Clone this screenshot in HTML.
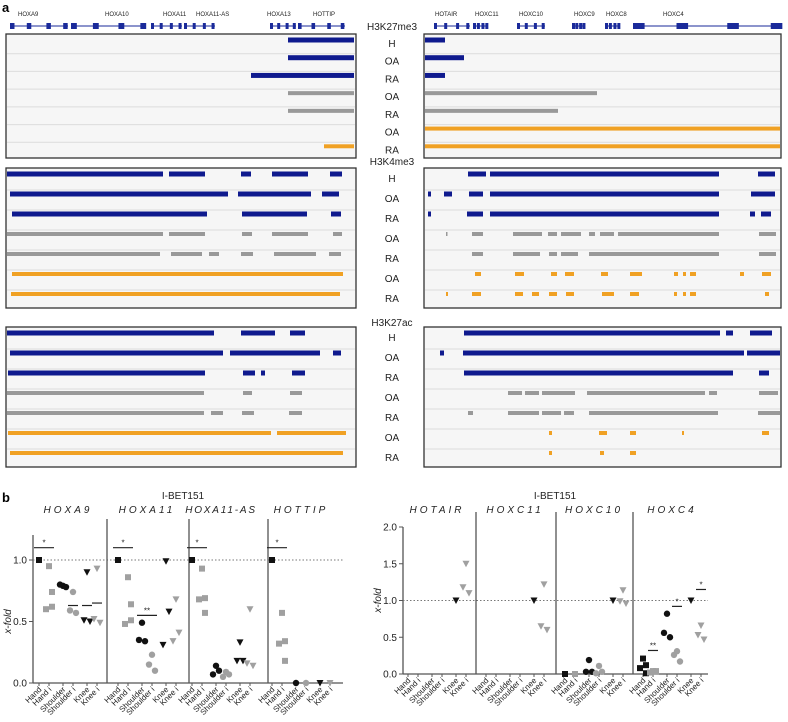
<!DOCTYPE html>
<html><head><meta charset="utf-8">
<style>
html,body{margin:0;padding:0;background:#fff;}
svg{display:block;font-family:"Liberation Sans",sans-serif;}
</style></head>
<body>
<svg id="fig" width="788" height="722" viewBox="0 0 788 722" xmlns="http://www.w3.org/2000/svg">
<text x="2" y="12" font-size="13" font-weight="bold">a</text>
<g id="genes"></g>
<g id="tracks"></g>
<text x="2" y="502" font-size="13" font-weight="bold">b</text>
<g id="scatter"></g>
</svg>
<script>
const NS='http://www.w3.org/2000/svg';
// ---------- Panel a data ----------
const geneNamesLeft=['HOXA9','HOXA10','HOXA11','HOXA11-AS','HOXA13','HOTTIP'];
const geneLabelLeft=[18,105,163,196,267,313];
const geneSpanLeft=[[12,68],[73,146],[153,182],[186,215],[272,296],[300,345]];
const geneNamesRight=['HOTAIR','HOXC11','HOXC10','HOXC9','HOXC8','HOXC4'];
const geneLabelRight=[435,475,519,574,606,663];
const geneSpanRight=[[436,470],[475,488],[519,545],[574,585],[607,620],[635,780]];
const marks=['H3K27me3','H3K4me3','H3K27ac'];
const rowLabels=['H','OA','RA','OA','RA','OA','RA'];
const rowGroup=['blue','blue','blue','gray','gray','orange','orange'];
const peaksK27me3L=[[[288,354]],[[288,354]],[[251,354]],[[288,354]],[[288,354]],[],[[324,354]]];
const peaksK27me3R=[[[424,445]],[[424,464]],[[424,445]],[[424,597]],[[424,558]],[[424,781]],[[424,781]]];
const peaksK4me3L=[
[[6,163],[169,205],[241,251],[272,308],[330,342]],
[[10,228],[238,311],[322,339]],
[[12,207],[242,307],[331,341]],
[[6,163],[169,205],[242,252],[272,308],[333,342]],
[[7,160],[171,202],[209,219],[241,253],[274,316],[329,341]],
[[12,343]],
[[11,340]]];
const peaksK4me3R=[
[[468,486],[490,719],[758,775]],
[[428,431],[444,452],[469,483],[490,719],[751,775]],
[[428,431],[467,483],[490,719],[750,755],[761,771]],
[[446,447],[472,483],[513,542],[548,557],[561,581],[589,595],[600,614],[618,719],[759,776]],
[[472,483],[513,540],[549,557],[561,578],[589,719],[759,776]],
[[475,481],[515,524],[551,557],[565,574],[601,608],[630,642],[674,678],[683,686],[690,696],[740,744],[762,771]],
[[446,448],[472,481],[515,523],[532,539],[549,557],[566,574],[602,614],[630,639],[674,677],[683,686],[690,696],[765,769]]];
const peaksK27acL=[
[[5,214],[241,275],[290,305]],
[[10,223],[230,320],[333,341]],
[[8,205],[243,255],[261,265],[292,305]],
[[5,204],[243,252],[290,302]],
[[5,204],[211,223],[242,254],[289,302]],
[[8,271],[277,346]],
[[10,343]]];
const peaksK27acR=[
[[464,720],[726,733],[750,772]],
[[440,444],[463,744],[747,780]],
[[464,733],[759,769]],
[[508,522],[525,539],[542,575],[587,705],[709,717],[759,778]],
[[468,473],[508,539],[542,561],[564,574],[589,718],[758,780]],
[[549,552],[599,607],[630,636],[682,684],[762,769]],
[[549,552],[600,604],[630,636]]];
const panelPeaks=[[peaksK27me3L,peaksK27me3R],[peaksK4me3L,peaksK4me3R],[peaksK27acL,peaksK27acR]];

// ---------- Panel b data ----------
const cats=['Hand','Hand i','Shoulder','Shoulder i','Knee','Knee i'];
const genesB1=['HOXA9','HOXA11','HOXA11-AS','HOTTIP'];
const genesB2=['HOTAIR','HOXC11','HOXC10','HOXC4'];
const valsHOXA9=[[1.0],[0.95,0.74,0.60,0.62],[0.79,0.78,0.80],[0.74,0.57,0.59],[0.90,0.50,0.51],[0.93,0.49,0.52]];
const valsHOXA11=[[1.0],[0.86,0.64,0.48,0.51],[0.49,0.34,0.35],[0.23,0.10,0.15],[0.99,0.58,0.31],[0.68,0.41,0.34]];
const valsHOXA11AS=[[1.0],[0.93,0.69,0.68,0.57],[0.14,0.10,0.07],[0.09,0.07,0.05],[0.33,0.18,0.18],[0.60,0.14,0.16]];
const valsHOTTIP=[[1.0],[0.57,0.34,0.32,0.18],[0.0],[0.0],[0.0],[0.0]];
const valsHOTAIR=[[],[],[],[],[1.0],[1.50,1.10,1.18]];
const valsHOXC11=[[],[],[],[],[1.0],[1.22,0.60,0.65]];
const valsHOXC10=[[0.0],[0.0],[0.19,0.03,0.03],[0.11,0.03,0.01],[1.0],[1.14,0.96,0.99]];
const valsHOXC4=[[0.21,0.12,0.08,0.01],[0.04,0.03,0.02,0.04],[0.82,0.50,0.56],[0.31,0.17,0.26],[1.0],[0.66,0.47,0.53]];
const sigHOXA9=[[0,1,1.1,'*'],[3,3,0.63,''],[4,4,0.63,''],[5,5,0.65,'']];
const sigHOXA11=[[0,1,1.1,'*'],[2,3,0.55,'**']];
const sigHOXA11AS=[[0,1,1.1,'*']];
const sigHOTTIP=[[0,1,1.1,'*']];
const sigHOXC4=[[1,1,0.32,'**'],[3,3,0.92,'*'],[5,5,1.15,'*']];
const ticksB1=[0,0.5,1.0];
const ticksB2=[0,0.5,1.0,1.5,2.0];

function el(tag,attrs,parent,text){const e=document.createElementNS(NS,tag);for(const k in attrs)e.setAttribute(k,attrs[k]);if(text!==undefined)e.textContent=text;parent.appendChild(e);return e;}
const colors={blue:'#0f1a8e',gray:'#999999',orange:'#f0a124'};
const thick={blue:5,gray:4,orange:4};

const gG=document.getElementById('genes');
function drawGenes(names,lbl,spans){
  names.forEach((n,i)=>{
    const t=el('text',{x:lbl[i],y:16,'font-size':6,fill:'#222'},gG,n);
    
    
    const s=spans[i];
    const ln=el('line',{x1:s[0],x2:s[1],y1:26,y2:26,stroke:'#1a2a9a','stroke-width':1},gG);
    
    
    const w=s[1]-s[0];
    [0,0.3,0.65,0.95].forEach(f=>{
      const b=el('rect',{x:s[0]+f*w-2,y:23,width:Math.max(3,w*0.08),height:6,fill:'#1a2a9a'},gG);
      
      
    });
  });
}
drawGenes(geneNamesLeft,geneLabelLeft,geneSpanLeft);
drawGenes(geneNamesRight,geneLabelRight,geneSpanRight);

const gT=document.getElementById('tracks');
const panels=[{top:34,bot:158,lab:27},{top:168,bot:308,lab:162},{top:327,bot:467,lab:323}];
const boxes=[[6,356],[424,781]];
const trackX=v=>v;
panels.forEach((p,pi)=>{
  const rh=(p.bot-p.top)/7;
  const mt=el('text',{x:392,y:p.lab+3,'font-size':10,'text-anchor':'middle',fill:'#222'},gT,marks[pi]);
  
  
  boxes.forEach((b,bi)=>{
    const r=el('rect',{x:b[0],y:p.top,width:b[1]-b[0],height:p.bot-p.top,fill:'#f6f6f6',stroke:'#333','stroke-width':1.3},gT);
    
    
    for(let i=1;i<7;i++){
      const l=el('line',{x1:b[0]+1,x2:b[1]-1,y1:p.top+i*rh+2,y2:p.top+i*rh+2,stroke:'#dcdcdc','stroke-width':1},gT);
      
      
    }
    const peaks=panelPeaks[pi][bi];
    peaks.forEach((row,ri)=>{
      const grp=rowGroup[ri];const y=p.top+6+ri*rh;
      row.forEach(pk=>{
        const x1=Math.max(trackX(pk[0]),b[0]+1),x2=Math.min(trackX(pk[1]),b[1]-1);
        const rr=el('rect',{x:x1,y:y-thick[grp]/2,width:Math.max(1.5,x2-x1),height:thick[grp],fill:colors[grp]},gT);
        
        
      });
    });
  });
  rowLabels.forEach((r,ri)=>{
    const t=el('text',{x:392,y:p.top+6+ri*rh+(pi===0?7:8),'font-size':10,'text-anchor':'middle',fill:'#222'},gT,r);
    
    
  });
});

const gS=document.getElementById('scatter');
function marker(shape,x,y,fill,parent){
  let m;
  if(shape===0) m=el('rect',{x:x-3,y:y-3,width:6,height:6,fill:fill},parent);
  else if(shape===1) m=el('circle',{cx:x,cy:y,r:3.2,fill:fill},parent);
  else m=el('polygon',{points:`${x-3.5},${y-3} ${x+3.5},${y-3} ${x},${y+3.5}`,fill:fill},parent);
  
  
}
function drawPlot(cfg){
  const yS=v=>cfg.y0-(v)*(cfg.y0-cfg.y1)/cfg.v1;
  const g=el('g',{},gS);
  
  
  const ti=el('text',{x:cfg.titleX,y:499,'font-size':10,'text-anchor':'middle',fill:'#222'},g,'I-BET151');
  
  
  const ya=el('line',{x1:cfg.ax,x2:cfg.ax,y1:cfg.axTop,y2:cfg.y0,stroke:'#555','stroke-width':1.3},g);
  
  
  const xa=el('line',{x1:cfg.ax,x2:cfg.axEnd,y1:cfg.y0,y2:cfg.y0,stroke:'#555','stroke-width':1.3},g);
  
  
  cfg.ticks.forEach(t=>{
    const tk=el('line',{x1:cfg.ax-4,x2:cfg.ax,y1:yS(t),y2:yS(t),stroke:'#555'},g);
    
    
    const tl=el('text',{x:cfg.ax-6,y:yS(t)+3.5,'font-size':10,'text-anchor':'end',fill:'#222'},g,t.toFixed(1));
    
    
  });
  const yt=el('text',{x:0,y:0,'font-size':10,'text-anchor':'middle',fill:'#222','font-style':'italic',transform:`translate(${cfg.ax-22},${yS(cfg.v1/2)}) rotate(-90)`},g,'x-fold');
  
  
  const dl=el('line',{x1:cfg.ax,x2:cfg.axEnd,y1:yS(1),y2:yS(1),stroke:'#777','stroke-dasharray':'1.5,2','stroke-width':1},g);
  
  
  cfg.genes.forEach((gn,gi)=>{
    const base=cfg.bases[gi];
    const px=ci=>base+Math.floor(ci/2)*24+(ci%2)*10;
    if(gi>0){
      const sp=el('line',{x1:cfg.seps[gi-1],x2:cfg.seps[gi-1],y1:cfg.sepTop,y2:cfg.y0,stroke:'#555','stroke-width':1.3},g);
      
      
    }
    const ls=gn.length>7?'1.8':'3';
    const gt=el('text',{x:base+29,y:513,'font-size':10,'text-anchor':'middle','font-style':'italic','letter-spacing':ls,fill:'#222'},g,gn);
    
    
    cats.forEach((c,ci)=>{
      const x=px(ci);
      const tk=el('line',{x1:x,x2:x,y1:cfg.y0,y2:cfg.y0+3,stroke:'#555'},g);
      
      
      const tl=el('text',{x:0,y:0,'font-size':8,'text-anchor':'end',fill:'#222',transform:`translate(${x+3},${cfg.y0+7}) rotate(-45)`},g,c);
      
      
      const vals=cfg.vals[gi][ci];
      const n=vals.length;
      vals.forEach((v,k)=>{
        const jx=n>1?((k%2)?3:-3)*(k>0?1:0):0;
        marker(Math.floor(ci/2),x+jx,yS(v),(ci%2)?'#a0a0a0':'#111',g);
      });
    });
    (cfg.sigs[gi]||[]).forEach(s=>{
      const x1=px(s[0])-5,x2=px(s[1])+5,y=yS(s[2]);
      const l=el('line',{x1:x1,x2:x2,y1:y,y2:y,stroke:'#222','stroke-width':1.2},g);
      
      
      if(s[3]){
        const st=el('text',{x:(x1+x2)/2,y:y-2,'font-size':8,'text-anchor':'middle',fill:'#222'},g,s[3]);
        
        
      }
    });
  });
}
drawPlot({name:'hoxa-expression-plot',titleX:183,ax:33,axEnd:343,axTop:535,y0:683,y1:560,v1:1,ticks:ticksB1,
  genes:genesB1,bases:[39,118,192,272],seps:[107,189,268],sepTop:519,
  vals:[valsHOXA9,valsHOXA11,valsHOXA11AS,valsHOTTIP],sigs:[sigHOXA9,sigHOXA11,sigHOXA11AS,sigHOTTIP]});
drawPlot({name:'hoxc-expression-plot',titleX:555,ax:403,axEnd:708,axTop:527,y0:674,y1:527,v1:2,ticks:ticksB2,
  genes:genesB2,bases:[408,486,565,643],seps:[476,556,633],sepTop:512,
  vals:[valsHOTAIR,valsHOXC11,valsHOXC10,valsHOXC4],sigs:[[],[],[],sigHOXC4]});
</script>
</body></html>
